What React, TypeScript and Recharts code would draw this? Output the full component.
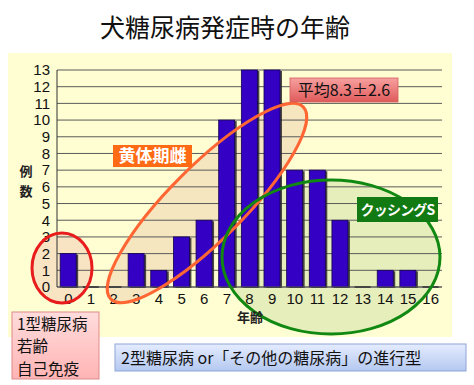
import React from 'react';
import { BarChart, Bar, XAxis, YAxis, CartesianGrid } from 'recharts';

const ages = ['0','1','2','3','4','5','6','7','8','9','10','11','12','13','14','15','16'];
const counts = [2, 0, 0, 2, 1, 3, 4, 10, 13, 13, 7, 7, 4, 0, 1, 1, 0];
const yTicks = [0,1,2,3,4,5,6,7,8,9,10,11,12,13];

const title = '犬糖尿病発症時の年齢';
const yLabel = ['例', '数'];
const xLabel = '年齢';
const noteLuteal = '黄体期雌';
const noteMean = '平均8.3±2.6';
const noteCushing = 'クッシングS';
const noteType1 = ['1型糖尿病', '若齢', '自己免疫'];
const noteType2 = '2型糖尿病 or「その他の糖尿病」の進行型';

const data = ages.map((a, i) => ({ age: a, count: counts[i] }));

const JP = '"Noto Sans CJK JP", "Noto Sans", sans-serif';
const LAT = '"Liberation Sans", Arial, sans-serif';

const BarShape = (props: any) => {
  const { x, y, width, height } = props;
  if (!height || height < 0.5) {
    return <rect x={x} y={y - 1} width={width} height={2} fill="#333" />;
  }
  return (
    <g>
      <rect x={x + 2} y={y + 1} width={width} height={height} fill="#2a2a2a" opacity={0.85} />
      <rect x={x} y={y} width={width} height={height} fill="#3300c4" stroke="#150050" strokeWidth={0.8} />
    </g>
  );
};

export default function App() {
  return (
    <div style={{ position: 'absolute', left: 0, top: 0, width: 474, height: 385, background: '#ffffff' }}>
      <svg width={474} height={385} style={{ position: 'absolute', left: 0, top: 0 }}>
        <rect x={8} y={53} width={444} height={284} fill="#fefed2" />
        <ellipse cx={62} cy={268} rx={30} ry={35} fill="#f8e4c2" />
        <ellipse cx={331} cy={257} rx={109} ry={77} fill="#e6eebb" />
        <ellipse cx={207} cy={203} rx={136} ry={37} transform="rotate(-45 207 203)" fill="#f5e6c0" />
      </svg>
      <div style={{ position: 'absolute', left: 0, top: 0 }}>
        <BarChart width={474} height={385} data={data} margin={{ top: 70, right: 32, bottom: 68, left: 17 }} barCategoryGap="14%">
          <CartesianGrid vertical={false} stroke="#5a5a5a" strokeWidth={1} />
          <XAxis
            dataKey="age"
            interval={0}
            tickLine={false}
            axisLine={{ stroke: '#5a5a5a' }}
            height={30}
            tick={{ fontSize: 15, fill: '#111', fontFamily: LAT }}
            tickMargin={0}
          />
          <YAxis
            width={40}
            domain={[0, 13]}
            ticks={yTicks}
            interval={0}
            tickLine={false}
            axisLine={{ stroke: '#333' }}
            tick={{ fontSize: 15, fill: '#111', fontFamily: LAT }}
            tickMargin={1}
          />
          <Bar dataKey="count" shape={<BarShape />} isAnimationActive={false} />
        </BarChart>
      </div>
      <svg width={474} height={385} style={{ position: 'absolute', left: 0, top: 0 }}>
        <defs>
          <linearGradient id="gMean" x1="0" y1="0" x2="0" y2="1">
            <stop offset="0" stopColor="#f7a0a0" />
            <stop offset="1" stopColor="#e05a5a" />
          </linearGradient>
          <linearGradient id="gT1" x1="0" y1="0" x2="0" y2="1">
            <stop offset="0" stopColor="#ffdcdc" />
            <stop offset="1" stopColor="#ffb4b4" />
          </linearGradient>
          <linearGradient id="gT2" x1="0" y1="0" x2="0" y2="1">
            <stop offset="0" stopColor="#e4ecff" />
            <stop offset="1" stopColor="#b4c8f0" />
          </linearGradient>
        </defs>
        <ellipse cx={62} cy={268} rx={30} ry={35} fill="none" stroke="#e81c1c" strokeWidth={3} />
        <ellipse cx={207} cy={203} rx={136} ry={37} transform="rotate(-45 207 203)" fill="none" stroke="#ff6633" strokeWidth={3} />
        <ellipse cx={331} cy={257} rx={109} ry={77} fill="none" stroke="#118811" strokeWidth={3} />

        <text x={225} y={37} textAnchor="middle" fontSize={25} fontFamily={JP} fill="#111">{title}</text>

        <text x={26} y={176} textAnchor="middle" fontSize={13} fontWeight="bold" fontFamily={JP} fill="#222">{yLabel[0]}</text>
        <text x={26} y={195.5} textAnchor="middle" fontSize={13} fontWeight="bold" fontFamily={JP} fill="#222">{yLabel[1]}</text>
        <text x={250} y={322} textAnchor="middle" fontSize={13} fontWeight="bold" fontFamily={JP} fill="#222">{xLabel}</text>

        <rect x={113} y={145} width={79} height={22} fill="#ff6a14" />
        <text x={152.5} y={162} textAnchor="middle" fontSize={17} fontWeight="bold" fontFamily={JP} fill="#fff">{noteLuteal}</text>

        <rect x={290} y={78} width={108} height={24} fill="url(#gMean)" stroke="#d06060" strokeWidth={0.8} />
        <text x={344} y={96} textAnchor="middle" fontSize={16} fontFamily={JP} fill="#111">{noteMean}</text>

        <rect x={357} y={197} width={81} height={25} fill="#127a12" />
        <text x={397.5} y={215} textAnchor="middle" fontSize={14} fontWeight="bold" letterSpacing={-0.8} fontFamily={JP} fill="#fff">{noteCushing}</text>

        <rect x={12} y={312} width={87} height={67} fill="url(#gT1)" stroke="#e08a8a" strokeWidth={1} />
        {noteType1.map((t, i) => (
          <text key={t} x={17} y={329.5 + i * 22.5} fontSize={15.5} fontFamily={JP} fill="#111">{t}</text>
        ))}

        <rect x={115} y={344} width={351} height={27} fill="url(#gT2)" stroke="#8fa6d6" strokeWidth={1} />
        <text x={121} y={363.5} fontSize={16} fontFamily={JP} fill="#111">{noteType2}</text>
      </svg>
    </div>
  );
}
